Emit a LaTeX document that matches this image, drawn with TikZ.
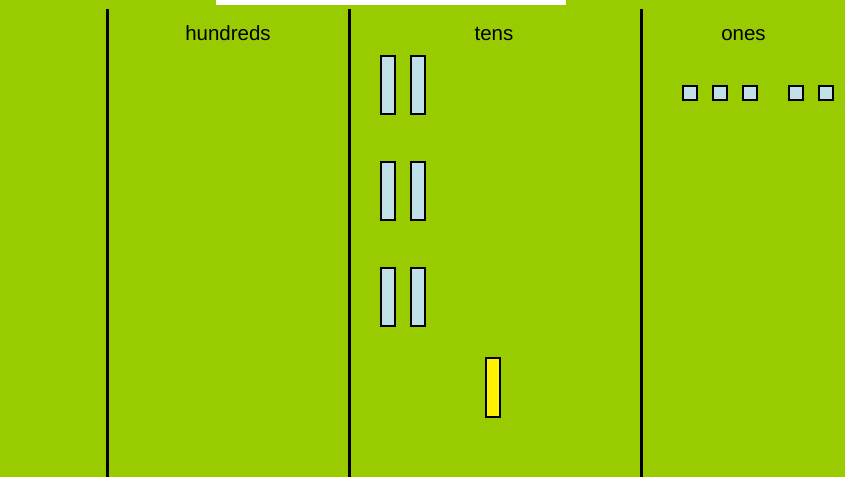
\documentclass[tikz,border=0pt]{standalone}
\usepackage{fontspec}
\setmainfont{Liberation Sans}
\definecolor{bggreen}{RGB}{153,204,0}
\definecolor{rodblue}{RGB}{191,224,230}
\begin{document}
\begin{tikzpicture}[x=1pt,y=-1pt,
  divider/.style={line width=3pt},
  colhead/.style={font=\fontsize{20.5}{24}\selectfont, inner sep=0pt, anchor=base},
  rod/.style={draw=black, line width=1.6pt, fill=rodblue, minimum width=14.5pt, minimum height=58.5pt, inner sep=0pt, outer sep=0pt},
  yrod/.style={rod, fill=yellow},
  unitsq/.style={draw=black, line width=1.6pt, fill=rodblue, minimum width=14.5pt, minimum height=14.5pt, inner sep=0pt, outer sep=0pt}]
\fill[bggreen] (0,0) rectangle (845,477);
\useasboundingbox (0,0) rectangle (845,477);
\fill[white] (216,0) rectangle (566,5);
\coordinate (d1t) at (107.5,9); \coordinate (d1b) at (107.5,477);
\coordinate (d2t) at (349.5,9); \coordinate (d2b) at (349.5,477);
\coordinate (d3t) at (641.5,9); \coordinate (d3b) at (641.5,477);
\draw[divider] (d1t) -- (d1b);
\draw[divider] (d2t) -- (d2b);
\draw[divider] (d3t) -- (d3b);
\node[colhead] (hundreds) at (228,40.5) {hundreds};
\node[colhead] (tens) at (494,40.5) {tens};
\node[colhead] (ones) at (743.5,40.5) {ones};
% tens rods
\node[rod] (r1a) at (388,85) {};
\node[rod] (r1b) at (418,85) {};
\node[rod] (r2a) at (388,191) {};
\node[rod] (r2b) at (418,191) {};
\node[rod] (r3a) at (388,297) {};
\node[rod] (r3b) at (418,297) {};
\node[yrod] (ry) at (493,387.5) {};
% ones
\node[unitsq] (u1) at (690,93) {};
\node[unitsq] (u2) at (720,93) {};
\node[unitsq] (u3) at (750,93) {};
\node[unitsq] (u4) at (796,93) {};
\node[unitsq] (u5) at (826,93) {};
\end{tikzpicture}
\end{document}
